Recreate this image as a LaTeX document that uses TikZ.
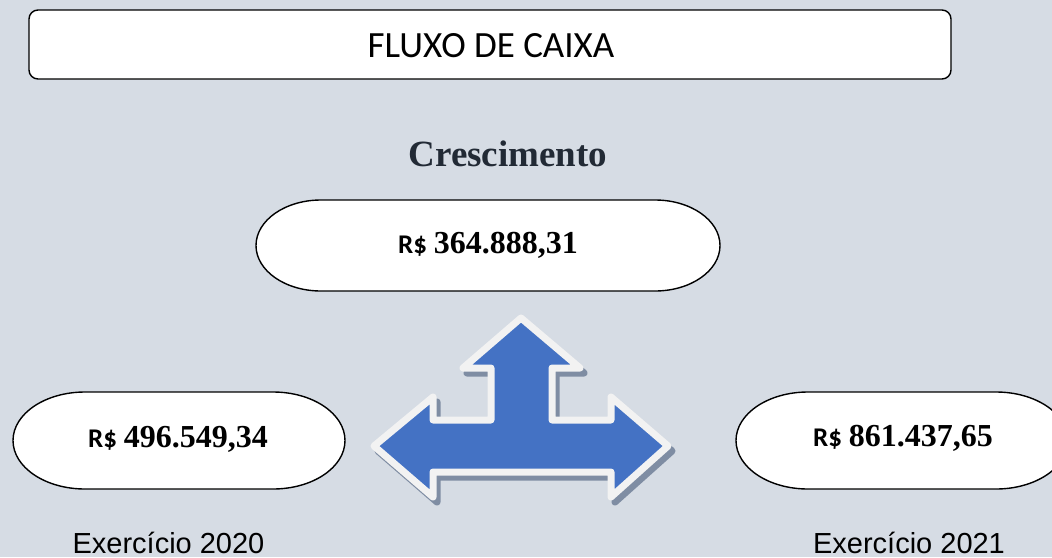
\documentclass[tikz,border=0pt]{standalone}
\usepackage{fontspec}
\setmainfont{Liberation Serif}
\newfontfamily\carlito{Carlito}
\newfontfamily\arialf{Liberation Sans}
\definecolor{bgc}{HTML}{D6DCE4}
\definecolor{arrowblue}{HTML}{4472C4}
\definecolor{arrowedge}{HTML}{F2F2F2}
\definecolor{arrowshadow}{HTML}{7F8DA3}
\definecolor{headc}{HTML}{222A35}
\newcommand\pillshape[5]{%
  \draw[pillstyle] ({#1+#5},#2) -- ({#3-#5},#2)
    .. controls ({#3-#5+0.5523*#5},#2) and (#3,{#2+(1-0.5523)*(#4-#2)/2}) .. (#3,{(#2+#4)/2})
    .. controls (#3,{#4-(1-0.5523)*(#4-#2)/2}) and ({#3-#5+0.5523*#5},#4) .. ({#3-#5},#4)
    -- ({#1+#5},#4)
    .. controls ({#1+#5-0.5523*#5},#4) and (#1,{#4-(1-0.5523)*(#4-#2)/2}) .. (#1,{(#2+#4)/2})
    .. controls (#1,{#2+(1-0.5523)*(#4-#2)/2}) and ({#1+#5-0.5523*#5},#2) .. cycle;}
\newcommand\arrowpath{(521,318) -- (580,368) -- (552,368) -- (552,420) -- (611,420) -- (611,397) -- (668,446) -- (611,497) -- (611,472) -- (433,472) -- (433,497) -- (374,446) -- (433,397) -- (433,420) -- (491,420) -- (491,368) -- (463,368) -- cycle}
\tikzset{
  pillstyle/.style={draw=black, fill=white, line width=1.4pt},
  titlebox/.style={draw=black, fill=white, line width=1.4pt, rounded corners=9pt},
  valtext/.style={anchor=base, inner sep=0pt},
  yeartext/.style={anchor=base, inner sep=0pt, font=\arialf\fontsize{29}{32}\selectfont},
}
\newcommand\valfmt[1]{{\carlito\bfseries\fontsize{27}{30}\selectfont R\$}\hspace{7pt}{\bfseries\fontsize{32}{36}\selectfont #1}}
\begin{document}
\begin{tikzpicture}[x=1pt,y=-1pt]
\useasboundingbox (0,0) rectangle (1052,557);
\clip (0,0) rectangle (1052,557);
\fill[bgc] (0,0) rectangle (1052,557);
% title
\draw[titlebox] (29,10) rectangle (951,79);
\node[inner sep=0pt, font=\carlito\fontsize{37}{40}\selectfont] (title) at (491,46) {FLUXO DE CAIXA};
% heading
\node[anchor=base, inner sep=0pt, text=headc, font=\bfseries\fontsize{37}{40}\selectfont] (cresc) at (508,166) {Crescimento};
% pills
\pillshape{256}{200}{720}{291}{65}
\pillshape{13}{392}{345}{489}{72}
\pillshape{736}{392}{1068}{489}{72}
\node[valtext] (vtop) at (488,253) {\valfmt{364.888,31}};
\node[valtext] (vleft) at (178,447) {\valfmt{496.549,34}};
\node[valtext] (vright) at (903,446) {\valfmt{861.437,65}};
% arrow
\begin{scope}[shift={(4,5)}]
\draw[arrowshadow, fill=arrowshadow, line width=7pt, line join=round] \arrowpath;
\end{scope}
\draw[draw=arrowedge, fill=arrowblue, line width=7pt, line join=round] \arrowpath;
% years
\node[yeartext] (y2020) at (168.5,553) {Exercício 2020};
\node[yeartext] (y2021) at (909,553) {Exercício 2021};
\end{tikzpicture}
\end{document}
